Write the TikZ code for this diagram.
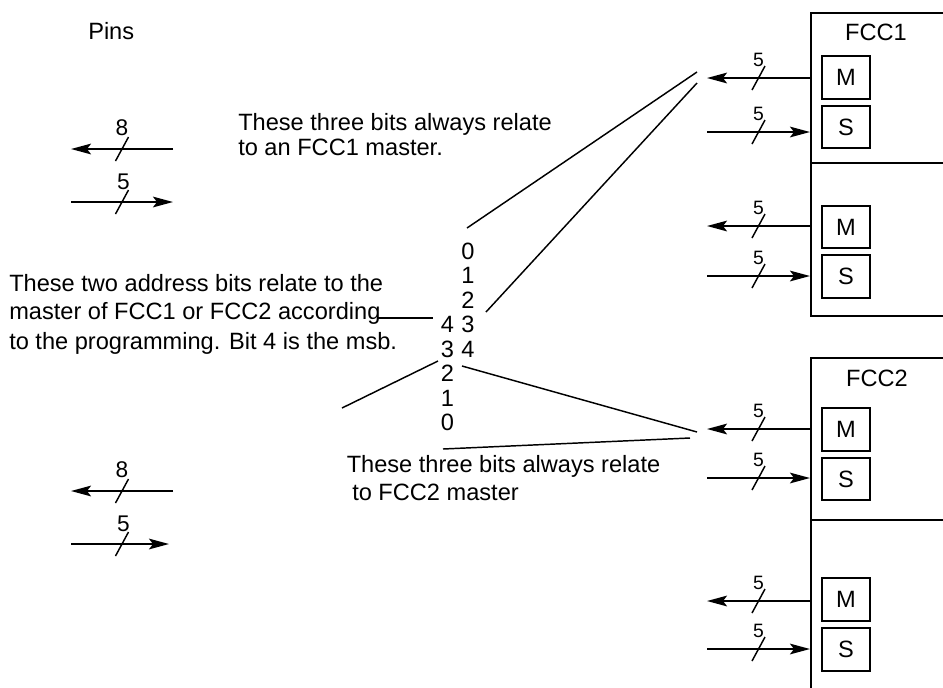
\documentclass[tikz,border=0pt]{standalone}
\usepackage{fontspec}
\setmainfont{Liberation Sans}
\usetikzlibrary{arrows.meta}
\begin{document}
\begin{tikzpicture}[x=0.75pt,y=-0.75pt,
  txt/.style={font=\fontsize{17.7}{21}\selectfont, inner sep=0pt, anchor=base west},
  ctxt/.style={font=\fontsize{17.7}{21}\selectfont, inner sep=0pt, anchor=base},
  lab/.style={font=\fontsize{14.5}{16}\selectfont, inner sep=0pt, anchor=base},
  biglab/.style={font=\fontsize{17}{20}\selectfont, inner sep=0pt, anchor=base},
  section/.style={draw, line width=1.5pt, minimum width=127.5pt, anchor=north west, inner sep=0pt},
  reg/.style={draw, line width=1.4pt, minimum width=36pt, minimum height=32pt, inner sep=0pt, font=\fontsize{17.7}{21}\selectfont},
  bus/.style={line width=1.5pt, -{Stealth[length=15pt,width=8pt,inset=3pt]}},
  hub/.style={line width=1.1pt},
  slash/.pic={\draw[line width=1.1pt] (-6.5,12) -- (6.5,-12);}
]
\useasboundingbox (0,0) rectangle (943,687);
\clip (0,0) rectangle (943,687);

% ---------- left pins ----------
\node[txt] (pins) at (88,39) {Pins};
\coordinate (pa1) at (173,149); \coordinate (pa2) at (71,149);
\coordinate (pb1) at (71,202);  \coordinate (pb2) at (173,202);
\coordinate (pc1) at (173,491); \coordinate (pc2) at (71,491);
\coordinate (pd1) at (71,544);  \coordinate (pd2) at (169,544);
\draw[bus] (pa1) -- (pa2);
\draw[bus] (pb1) -- (pb2);
\draw[bus] (pc1) -- (pc2);
\draw[bus] (pd1) -- (pd2);
\pic at (122,149) {slash};
\pic at (122,202) {slash};
\pic at (122,491) {slash};
\pic at (122,544) {slash};
\node[biglab] (la) at (122,135.5) {8};
\node[biglab] (lb) at (123.5,189.5) {5};
\node[biglab] (lc) at (122,477.5) {8};
\node[biglab] (ld) at (123.5,531) {5};

% ---------- texts ----------
\node[txt] (t1a) at (238,130.7) {These three bits always relate};
\node[txt] (t1b) at (238,155) {to an FCC1 master.};
\node[txt] (t2a) at (9,291) {These two address bits relate to the};
\node[txt] (t2b) at (9,319.5) {master of FCC1 or FCC2 according};
\node[txt] (t2c) at (9,349) {to the programming. Bit 4 is the msb.};
\node[txt] (t3a) at (346.5,472.3) {These three bits always relate};
\node[txt] (t3b) at (352,500) {to FCC2 master};

% ---------- bit columns ----------
\foreach \d [count=\i from 0] in {0,1,2,3,4}
  \node[ctxt] (r\d) at (468,259.3+24.5*\i) {\d};
\foreach \d [count=\i from 0] in {4,3,2,1,0}
  \node[ctxt] (l\d) at (447.5,332.8+24.5*\i) {\d};

% ---------- hub lines ----------
\coordinate (h1a) at (467,228); \coordinate (h1b) at (697,72);
\coordinate (h2a) at (486,312); \coordinate (h2b) at (697,83);
\coordinate (h3a) at (377,318); \coordinate (h3b) at (433,318);
\coordinate (h4a) at (438,361); \coordinate (h4b) at (342,408);
\coordinate (h5a) at (462,366); \coordinate (h5b) at (697,432);
\coordinate (h6a) at (443,449); \coordinate (h6b) at (690,438);
\draw[hub] (h1a) -- (h1b);
\draw[hub] (h2a) -- (h2b);
\draw[hub] (h3a) -- (h3b);
\draw[hub] (h4a) -- (h4b);
\draw[hub] (h5a) -- (h5b);
\draw[hub] (h6a) -- (h6b);

% ---------- FCC1 ----------
\node[section, minimum height=112.5pt] (f1a) at (810,12) {};
\node[section, minimum height=114.75pt] (f1b) at (810,162) {};
\node[ctxt] (f1lab) at (876,40) {FCC1};
\node[reg] (m1) at (846,77.5) {M};
\node[reg] (s1) at (846,127) {S};
\node[reg] (m2) at (846,227) {M};
\node[reg] (s2) at (846,276.5) {S};

% ---------- FCC2 ----------
\node[section, minimum height=121.5pt] (f2a) at (810,357) {};
\node[section, minimum height=150pt] (f2b) at (810,519) {};
\node[ctxt] (f2lab) at (877,386) {FCC2};
\node[reg] (m3) at (846,429.5) {M};
\node[reg] (s3) at (846,479) {S};
\node[reg] (m4) at (846,599.5) {M};
\node[reg] (s4) at (846,649.5) {S};

% ---------- right buses ----------
\foreach \n/\y/\sec/\dir in {a/78/f1a/l, b/132/f1a/r, c/226/f1b/l, d/276/f1b/r,
                             e/429/f2a/l, f/478/f2a/r, g/601/f2b/l, h/649/f2b/r} {
  \coordinate (q\n) at (707,\y);
  \if l\dir
    \draw[bus] (q\n -| \sec.west) -- (q\n);
  \else
    \draw[bus] (q\n) -- (q\n -| \sec.west);
  \fi
  \pic at (758.5,\y) {slash};
  \node[lab] (n\n) at (758.5,\y-12) {5};
}
\end{tikzpicture}
\end{document}
